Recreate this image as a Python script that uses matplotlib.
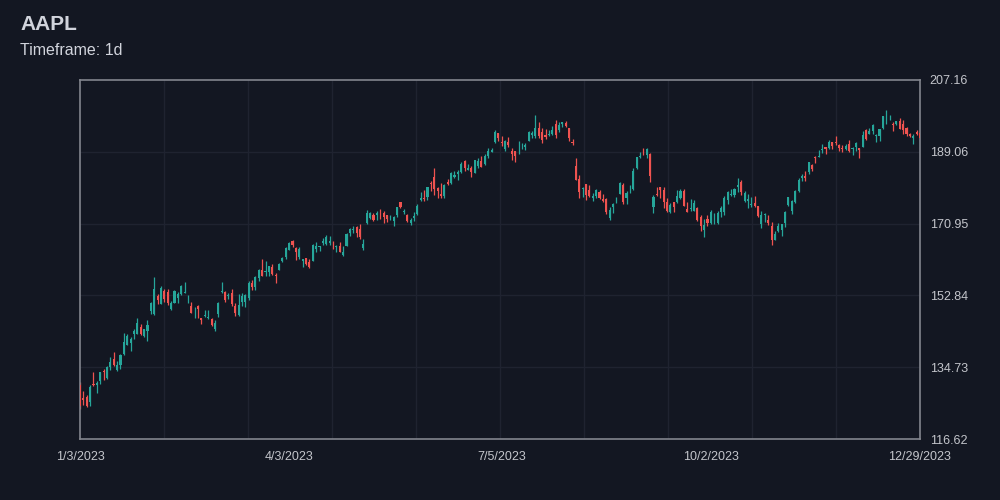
import matplotlib
matplotlib.use("Agg")
import matplotlib.pyplot as plt
import numpy as np
from datetime import datetime

symbol = "AAPL"
timeframe = "1d"

dates = [
    # Jan
    "2023-01-03","2023-01-04","2023-01-05","2023-01-06","2023-01-09","2023-01-10","2023-01-11","2023-01-12","2023-01-13","2023-01-17",
    "2023-01-18","2023-01-19","2023-01-20","2023-01-23","2023-01-24","2023-01-25","2023-01-26","2023-01-27","2023-01-30","2023-01-31",
    # Feb
    "2023-02-01","2023-02-02","2023-02-03","2023-02-06","2023-02-07","2023-02-08","2023-02-09","2023-02-10","2023-02-13","2023-02-14",
    "2023-02-15","2023-02-16","2023-02-17","2023-02-21","2023-02-22","2023-02-23","2023-02-24","2023-02-27","2023-02-28",
    # Mar
    "2023-03-01","2023-03-02","2023-03-03","2023-03-06","2023-03-07","2023-03-08","2023-03-09","2023-03-10","2023-03-13","2023-03-14",
    "2023-03-15","2023-03-16","2023-03-17","2023-03-20","2023-03-21","2023-03-22","2023-03-23","2023-03-24","2023-03-27","2023-03-28",
    "2023-03-29","2023-03-30","2023-03-31",
    # Apr
    "2023-04-03","2023-04-04","2023-04-05","2023-04-06","2023-04-10","2023-04-11","2023-04-12","2023-04-13","2023-04-14","2023-04-17",
    "2023-04-18","2023-04-19","2023-04-20","2023-04-21","2023-04-24","2023-04-25","2023-04-26","2023-04-27","2023-04-28",
    # May
    "2023-05-01","2023-05-02","2023-05-03","2023-05-04","2023-05-05","2023-05-08","2023-05-09","2023-05-10","2023-05-11","2023-05-12",
    "2023-05-15","2023-05-16","2023-05-17","2023-05-18","2023-05-19","2023-05-22","2023-05-23","2023-05-24","2023-05-25","2023-05-26",
    "2023-05-30","2023-05-31",
    # Jun
    "2023-06-01","2023-06-02","2023-06-05","2023-06-06","2023-06-07","2023-06-08","2023-06-09","2023-06-12","2023-06-13","2023-06-14",
    "2023-06-15","2023-06-16","2023-06-20","2023-06-21","2023-06-22","2023-06-23","2023-06-26","2023-06-27","2023-06-28","2023-06-29",
    "2023-06-30",
    # Jul
    "2023-07-03","2023-07-05","2023-07-06","2023-07-07","2023-07-10","2023-07-11","2023-07-12","2023-07-13","2023-07-14","2023-07-17",
    "2023-07-18","2023-07-19","2023-07-20","2023-07-21","2023-07-24","2023-07-25","2023-07-26","2023-07-27","2023-07-28","2023-07-31",
    # Aug
    "2023-08-01","2023-08-02","2023-08-03","2023-08-04","2023-08-07","2023-08-08","2023-08-09","2023-08-10","2023-08-11","2023-08-14",
    "2023-08-15","2023-08-16","2023-08-17","2023-08-18","2023-08-21","2023-08-22","2023-08-23","2023-08-24","2023-08-25","2023-08-28",
    "2023-08-29","2023-08-30","2023-08-31",
    # Sep
    "2023-09-01","2023-09-05","2023-09-06","2023-09-07","2023-09-08","2023-09-11","2023-09-12","2023-09-13","2023-09-14","2023-09-15",
    "2023-09-18","2023-09-19","2023-09-20","2023-09-21","2023-09-22","2023-09-25","2023-09-26","2023-09-27","2023-09-28","2023-09-29",
    # Oct
    "2023-10-02","2023-10-03","2023-10-04","2023-10-05","2023-10-06","2023-10-09","2023-10-10","2023-10-11","2023-10-12","2023-10-13",
    "2023-10-16","2023-10-17","2023-10-18","2023-10-19","2023-10-20","2023-10-23","2023-10-24","2023-10-25","2023-10-26","2023-10-27",
    "2023-10-30","2023-10-31",
    # Nov
    "2023-11-01","2023-11-02","2023-11-03","2023-11-06","2023-11-07","2023-11-08","2023-11-09","2023-11-10","2023-11-13","2023-11-14",
    "2023-11-15","2023-11-16","2023-11-17","2023-11-20","2023-11-21","2023-11-22","2023-11-24","2023-11-27","2023-11-28","2023-11-29",
    "2023-11-30",
    # Dec
    "2023-12-01","2023-12-04","2023-12-05","2023-12-06","2023-12-07","2023-12-08","2023-12-11","2023-12-12","2023-12-13","2023-12-14",
    "2023-12-15","2023-12-18","2023-12-19","2023-12-20","2023-12-21","2023-12-22","2023-12-26","2023-12-27","2023-12-28","2023-12-29",
]

opens = [
    130.28,126.89,127.13,126.01,130.47,130.26,131.25,133.88,132.03,134.83,136.82,134.08,135.28,138.12,140.31,140.89,143.17,143.16,144.96,142.70,
    143.97,148.90,148.03,152.57,150.64,153.88,153.78,149.46,150.95,152.12,153.11,153.51,152.35,150.20,148.87,150.09,147.11,147.71,147.05,
    146.83,144.38,148.04,153.79,153.70,152.81,153.56,150.21,147.81,151.28,151.19,152.16,156.08,155.07,157.32,159.30,158.83,158.86,159.94,157.97,159.37,161.53,162.44,
    164.27,166.60,164.74,162.43,161.42,162.35,161.22,161.63,164.59,165.09,166.10,165.80,166.09,165.05,165.00,165.19,163.06,165.19,168.49,
    169.28,170.09,169.50,164.89,170.98,172.48,173.05,173.02,173.85,173.62,173.16,171.99,171.71,173.00,176.39,173.98,173.13,171.09,172.41,173.32,176.96,177.33,
    177.70,181.03,182.63,179.97,178.44,177.90,181.50,181.27,182.80,183.37,183.96,186.73,184.41,184.90,183.74,185.55,186.83,185.89,187.93,189.08,191.63,
    193.78,191.57,189.84,191.41,189.26,189.16,189.68,190.50,190.23,191.90,193.35,193.10,195.09,194.10,193.41,193.33,193.67,196.02,194.67,196.06,
    196.24,195.04,191.57,185.52,182.13,179.69,180.87,179.48,177.32,177.97,178.88,177.13,177.14,172.30,175.07,177.06,178.52,180.67,177.38,180.09,179.70,184.94,187.84,
    189.49,188.28,188.40,175.18,178.35,180.07,179.49,176.51,174.00,176.48,176.48,177.52,179.26,174.55,174.67,174.20,174.82,172.62,169.34,172.02,
    171.22,172.26,171.09,173.79,173.80,176.81,178.10,178.20,180.07,181.42,176.75,176.65,175.58,176.04,175.31,170.91,173.05,171.88,170.37,166.91,169.02,169.35,
    171.00,175.52,174.24,176.38,179.18,182.35,182.96,183.97,185.82,187.70,187.85,189.57,190.25,189.89,191.41,191.49,190.87,189.92,189.78,190.90,189.84,
    190.33,189.98,190.21,194.45,193.63,194.20,193.11,193.08,195.09,198.02,197.53,196.09,196.16,196.90,196.10,195.18,193.61,192.49,194.14,193.90,
]

highs = [
    130.90,128.66,127.77,130.29,133.41,131.26,133.51,134.26,134.92,137.29,138.61,136.25,138.02,143.32,143.16,142.43,144.25,147.23,145.55,144.34,
    146.61,151.18,157.38,153.10,155.23,154.58,154.33,151.34,154.26,153.77,155.50,156.33,153.00,151.30,149.95,150.34,147.19,149.17,149.08,
    147.23,146.71,151.11,156.30,154.03,153.47,154.54,150.94,153.14,153.40,153.25,156.46,156.74,157.82,159.40,162.14,161.55,160.34,160.77,158.49,161.05,162.47,165.00,
    166.29,166.84,165.05,164.96,162.03,162.36,162.06,165.80,166.32,165.39,167.41,168.16,167.87,166.45,165.60,166.31,165.28,168.56,169.85,
    170.45,170.35,170.92,167.04,174.30,173.85,173.54,174.03,174.59,174.06,173.21,173.14,172.93,175.24,176.39,174.71,173.38,172.42,173.90,175.77,178.99,179.35,
    180.12,181.78,184.95,180.12,181.21,180.84,182.23,183.89,184.15,184.39,186.52,186.99,186.10,185.41,187.05,187.56,188.05,188.39,189.90,190.07,194.48,
    193.88,192.98,192.02,192.67,189.99,189.30,191.70,191.19,191.18,194.32,194.33,198.23,196.47,194.97,194.91,194.44,195.64,197.20,196.63,196.49,
    196.73,195.18,192.37,187.38,183.13,180.27,180.93,180.75,178.62,179.69,179.48,178.54,177.51,175.10,176.13,177.68,181.55,181.10,179.15,180.59,184.90,187.85,189.12,
    189.92,189.98,188.85,178.21,180.24,180.30,180.13,177.30,176.10,176.50,179.38,179.63,179.70,176.30,177.08,176.97,175.20,173.04,172.03,173.07,
    174.30,173.63,174.21,175.45,177.99,179.05,179.72,179.85,182.34,181.93,179.08,178.42,177.58,177.84,175.42,174.01,173.67,173.06,171.38,168.96,171.17,170.90,
    174.23,177.78,176.82,179.43,182.44,183.45,184.12,186.57,186.03,188.11,189.50,190.96,190.38,191.91,191.52,192.93,190.90,190.67,191.08,192.09,190.32,
    191.56,190.05,194.40,194.76,195.00,195.99,193.49,194.72,198.00,199.62,198.40,196.63,196.95,197.68,197.08,195.41,193.89,193.50,194.66,194.40,
]

lows = [
    124.17,125.08,124.76,124.89,129.89,128.12,130.46,131.44,131.66,134.13,135.03,133.77,134.22,137.90,140.30,138.81,141.90,143.08,142.85,142.28,
    141.32,148.17,147.83,150.78,150.64,151.17,150.42,149.22,150.92,150.86,152.88,153.35,150.85,148.41,147.16,147.24,145.72,147.45,146.83,
    145.01,143.90,147.33,153.46,151.13,151.83,150.23,147.61,147.70,150.10,149.92,151.64,154.28,154.15,156.54,157.81,157.68,157.85,157.87,155.98,159.35,161.27,161.91,
    164.22,165.11,161.80,162.00,160.08,160.51,159.78,161.42,163.82,164.03,165.65,165.54,165.56,164.49,163.89,163.73,162.80,165.19,167.88,
    168.64,167.54,167.16,164.31,170.76,172.11,171.60,171.90,172.17,171.00,171.47,171.80,170.42,172.58,174.94,173.45,171.28,170.52,171.69,173.11,176.57,176.76,
    176.93,179.26,178.04,177.43,177.32,177.46,180.63,180.97,182.44,182.02,183.78,184.27,184.41,182.59,183.67,185.01,185.23,185.67,187.60,188.94,191.26,
    191.76,190.62,189.20,190.24,187.04,186.60,188.47,189.78,189.63,191.81,192.42,192.65,192.50,191.23,192.25,192.92,193.32,192.55,194.14,195.26,
    195.28,191.85,190.69,181.92,177.35,177.58,177.01,177.60,176.55,177.31,177.05,176.50,173.48,171.96,173.74,176.25,178.33,176.01,175.82,178.55,179.50,184.74,187.48,
    188.28,187.61,181.47,173.54,177.79,177.34,174.82,173.98,173.58,173.82,176.17,177.13,175.40,173.86,174.05,174.15,171.66,169.05,167.62,170.34,
    170.93,170.82,170.97,172.68,173.18,175.80,177.95,177.60,179.04,178.14,176.51,174.80,175.11,175.19,172.64,169.93,171.45,170.65,165.67,166.83,168.87,167.90,
    170.12,175.46,173.35,176.21,178.97,181.59,181.81,183.53,184.21,186.30,187.78,188.65,188.57,189.88,189.74,190.83,189.25,188.90,189.40,188.97,188.19,
    189.23,187.45,190.18,192.11,193.59,193.67,191.42,191.72,194.85,196.16,197.00,194.39,195.89,194.83,193.50,192.97,192.83,191.09,193.17,191.73,
]

closes = [
    125.07,126.36,125.02,129.62,130.15,130.73,133.49,133.41,134.76,135.94,135.21,135.27,137.87,141.11,142.53,141.86,143.96,145.93,143.00,144.29,
    145.43,150.82,154.50,151.73,154.65,151.92,150.87,151.01,153.85,153.20,155.33,153.71,152.55,148.48,148.91,149.40,146.71,147.92,147.41,
    145.31,145.91,151.03,153.83,151.60,152.87,150.59,148.50,150.47,152.59,152.99,155.85,155.00,157.40,159.28,157.83,158.93,160.25,158.28,157.65,160.77,162.36,164.90,
    166.17,165.63,163.76,164.66,162.03,160.80,160.10,165.56,165.21,165.23,166.47,167.63,166.65,165.02,165.33,163.77,163.76,168.41,169.68,
    169.59,168.54,167.45,165.79,173.57,173.50,171.77,173.56,173.75,172.57,172.07,172.07,172.69,175.05,175.16,174.20,171.56,171.84,172.99,175.43,177.30,177.25,
    180.09,180.95,179.58,179.21,177.82,180.57,180.96,183.79,183.31,183.95,186.01,184.92,185.01,183.96,187.00,186.68,185.27,188.06,189.25,189.59,193.97,
    192.46,191.33,191.81,190.68,188.61,188.08,189.77,190.54,190.69,193.99,193.73,195.10,193.13,191.94,192.75,193.62,194.50,193.22,195.83,196.45,
    195.61,192.58,191.17,181.99,178.85,179.80,178.19,177.97,177.79,179.46,177.45,176.57,174.00,174.49,175.84,177.23,181.12,176.38,178.61,180.19,184.12,187.65,187.87,
    189.46,189.70,182.91,177.56,178.18,179.36,176.30,174.21,175.74,175.01,177.97,179.07,175.49,173.93,174.79,176.08,171.96,170.43,170.69,171.21,
    173.75,172.40,173.66,174.91,177.49,178.99,178.39,179.80,180.71,178.85,178.72,177.15,175.84,175.46,172.88,173.00,173.44,171.10,166.89,168.22,170.29,170.77,
    173.97,177.57,176.65,179.23,181.82,182.89,182.41,186.40,184.80,187.44,188.01,189.71,189.69,191.45,190.64,191.31,189.97,189.79,190.40,189.37,189.95,
    191.24,189.43,193.42,192.32,194.27,195.71,193.18,194.71,197.96,198.11,197.57,195.89,196.94,194.83,194.68,193.60,193.05,193.15,193.58,192.53,
]

# ---- styling ----
BG = "#131722"
GRID = "#1f2330"
SPINE = "#82858d"
TEXT = "#d1d4dc"
TICK = "#c3c5cb"
UP = "#26a69a"
DOWN = "#ef5350"

plt.rcParams['font.family'] = ['Liberation Sans', 'DejaVu Sans']

o = np.array(opens); h = np.array(highs); l = np.array(lows); c = np.array(closes)
n = len(dates)
x = np.arange(n)

fig = plt.figure(figsize=(10, 5), dpi=100, facecolor=BG)
ax = fig.add_axes([0.08, 0.122, 0.84, 0.718])
ax.set_facecolor(BG)

lo, hi = l.min(), h.max()
pad = (hi - lo) * 0.1
y0, y1 = lo - pad, hi + pad
ax.set_ylim(y0, y1)
ax.set_xlim(0, n - 1)

# grid
yticks = np.linspace(y0, y1, 6)
for yv in yticks[1:-1]:
    ax.axhline(yv, color=GRID, lw=1.0, zorder=0)
for xv in np.linspace(0, n - 1, 11)[1:-1]:
    ax.axvline(xv, color=GRID, lw=1.0, zorder=0)

up = c >= o
colors = np.where(up, UP, DOWN)
ax.vlines(x, l, h, colors=colors, lw=0.9, zorder=2)
bottoms = np.minimum(o, c)
heights = np.maximum(np.abs(c - o), 0.12)
ax.bar(x, heights, bottom=bottoms, width=0.62, color=colors, edgecolor='none', zorder=3)

# y axis on the right
ax.yaxis.tick_right()
ax.set_yticks(yticks)
ax.set_yticklabels([f"{v:.2f}" for v in yticks])
xt = [int(np.floor(v + 0.5)) for v in np.linspace(0, n - 1, 5)]
ax.set_xticks(xt)
def fmt(d):
    dt = datetime.strptime(d, "%Y-%m-%d")
    return f"{dt.month}/{dt.day}/{dt.year}"
ax.set_xticklabels([fmt(dates[i]) for i in xt])
ax.tick_params(axis='both', length=0, colors=TICK, labelsize=9)
ax.tick_params(axis='y', pad=7)
ax.tick_params(axis='x', pad=9)

for s in ax.spines.values():
    s.set_color(SPINE)
    s.set_linewidth(1.2)

fig.text(0.02, 0.94, symbol, color=TEXT, fontsize=15, fontweight='bold', ha='left', va='baseline')
fig.text(0.02, 0.89, f"Timeframe: {timeframe}", color=TEXT, fontsize=11.5, ha='left', va='baseline')

fig.savefig("out.png", dpi=100, facecolor=BG)
